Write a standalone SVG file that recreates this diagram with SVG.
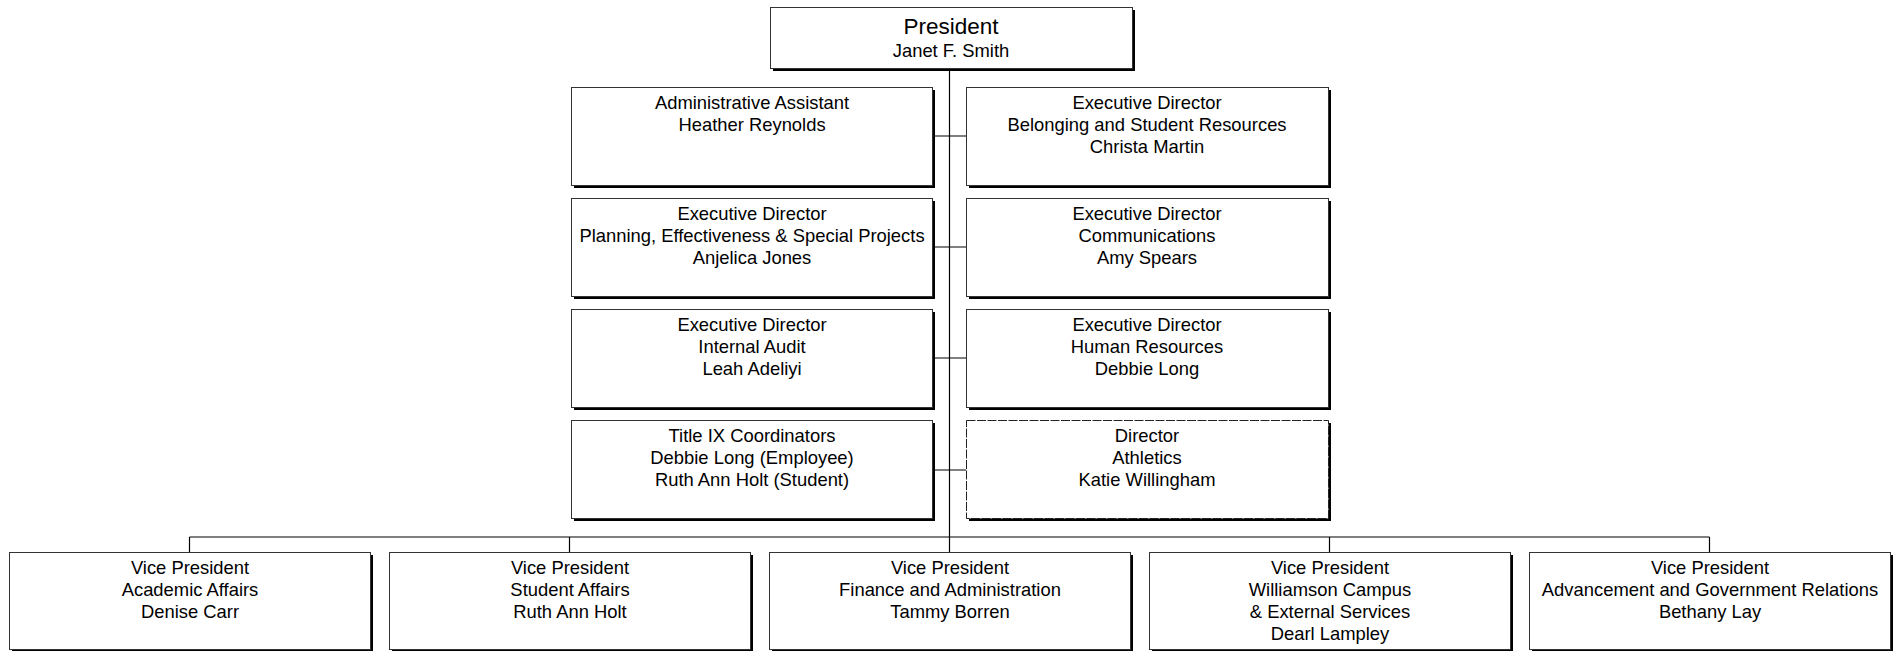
<svg xmlns="http://www.w3.org/2000/svg" width="1900" height="651" viewBox="0 0 1900 651">
<style>
.sh{fill:#000}
.bx{fill:#fff;stroke:#333;stroke-width:1}
.dash{stroke:#222;stroke-dasharray:9 1.5}
.t{font-family:"Liberation Sans",Arial,sans-serif;font-size:18.4px;fill:#000;text-anchor:middle}
.big{font-size:22.5px}
.c{stroke:#000;stroke-width:1.2;fill:none}
</style>
<rect width="1900" height="651" fill="#fff"/>
<g id="connectors">
<path class="c" d="M949.5 68V537M932 136H966M932 247H966M932 358H966M932 470H966M189.5 537H1709.5M189.5 537V552M569.5 537V552M949.5 537V552M1329.5 537V552M1709.5 537V552"/>
</g>
<g id="president">
<rect class="sh" x="773" y="10" width="362" height="61"/>
<rect class="bx" x="770.5" y="7.5" width="362" height="61"/>
<text class="t big" x="951" y="34">President</text>
<text class="t" x="951" y="57">Janet F. Smith</text>
</g>
<g id="admin-assistant">
<rect class="sh" x="574" y="90" width="361" height="98"/>
<rect class="bx" x="571.5" y="87.5" width="361" height="98"/>
<text class="t" x="752" y="109">Administrative Assistant<tspan x="752" dy="22">Heather Reynolds</tspan></text>
</g>
<g id="ed-belonging">
<rect class="sh" x="969" y="90" width="362" height="98"/>
<rect class="bx" x="966.5" y="87.5" width="362" height="98"/>
<text class="t" x="1147" y="109">Executive Director<tspan x="1147" dy="22">Belonging and Student Resources</tspan><tspan x="1147" dy="22">Christa Martin</tspan></text>
</g>
<g id="ed-planning">
<rect class="sh" x="574" y="201" width="361" height="98"/>
<rect class="bx" x="571.5" y="198.5" width="361" height="98"/>
<text class="t" x="752" y="220">Executive Director<tspan x="752" dy="22">Planning, Effectiveness &amp; Special Projects</tspan><tspan x="752" dy="22">Anjelica Jones</tspan></text>
</g>
<g id="ed-communications">
<rect class="sh" x="969" y="201" width="362" height="98"/>
<rect class="bx" x="966.5" y="198.5" width="362" height="98"/>
<text class="t" x="1147" y="220">Executive Director<tspan x="1147" dy="22">Communications</tspan><tspan x="1147" dy="22">Amy Spears</tspan></text>
</g>
<g id="ed-audit">
<rect class="sh" x="574" y="312" width="361" height="98"/>
<rect class="bx" x="571.5" y="309.5" width="361" height="98"/>
<text class="t" x="752" y="331">Executive Director<tspan x="752" dy="22">Internal Audit</tspan><tspan x="752" dy="22">Leah Adeliyi</tspan></text>
</g>
<g id="ed-hr">
<rect class="sh" x="969" y="312" width="362" height="98"/>
<rect class="bx" x="966.5" y="309.5" width="362" height="98"/>
<text class="t" x="1147" y="331">Executive Director<tspan x="1147" dy="22">Human Resources</tspan><tspan x="1147" dy="22">Debbie Long</tspan></text>
</g>
<g id="title-ix">
<rect class="sh" x="574" y="423" width="361" height="98"/>
<rect class="bx" x="571.5" y="420.5" width="361" height="98"/>
<text class="t" x="752" y="442">Title IX Coordinators<tspan x="752" dy="22">Debbie Long (Employee)</tspan><tspan x="752" dy="22">Ruth Ann Holt (Student)</tspan></text>
</g>
<g id="athletics">
<rect class="sh" x="969" y="423" width="362" height="98"/>
<rect class="bx dash" x="966.5" y="420.5" width="362" height="98"/>
<text class="t" x="1147" y="442">Director<tspan x="1147" dy="22">Athletics</tspan><tspan x="1147" dy="22">Katie Willingham</tspan></text>
</g>
<g id="vp-academic">
<rect class="sh" x="12" y="555" width="361" height="97"/>
<rect class="bx" x="9.5" y="552.5" width="361" height="97"/>
<text class="t" x="190" y="574">Vice President<tspan x="190" dy="22">Academic Affairs</tspan><tspan x="190" dy="22">Denise Carr</tspan></text>
</g>
<g id="vp-student">
<rect class="sh" x="392" y="555" width="361" height="97"/>
<rect class="bx" x="389.5" y="552.5" width="361" height="97"/>
<text class="t" x="570" y="574">Vice President<tspan x="570" dy="22">Student Affairs</tspan><tspan x="570" dy="22">Ruth Ann Holt</tspan></text>
</g>
<g id="vp-finance">
<rect class="sh" x="772" y="555" width="361" height="97"/>
<rect class="bx" x="769.5" y="552.5" width="361" height="97"/>
<text class="t" x="950" y="574">Vice President<tspan x="950" dy="22">Finance and Administration</tspan><tspan x="950" dy="22">Tammy Borren</tspan></text>
</g>
<g id="vp-williamson">
<rect class="sh" x="1152" y="555" width="361" height="97"/>
<rect class="bx" x="1149.5" y="552.5" width="361" height="97"/>
<text class="t" x="1330" y="574">Vice President<tspan x="1330" dy="22">Williamson Campus</tspan><tspan x="1330" dy="22">&amp; External Services</tspan><tspan x="1330" dy="22">Dearl Lampley</tspan></text>
</g>
<g id="vp-advancement">
<rect class="sh" x="1532" y="555" width="361" height="97"/>
<rect class="bx" x="1529.5" y="552.5" width="361" height="97"/>
<text class="t" x="1710" y="574">Vice President<tspan x="1710" dy="22">Advancement and Government Relations</tspan><tspan x="1710" dy="22">Bethany Lay</tspan></text>
</g>
</svg>
